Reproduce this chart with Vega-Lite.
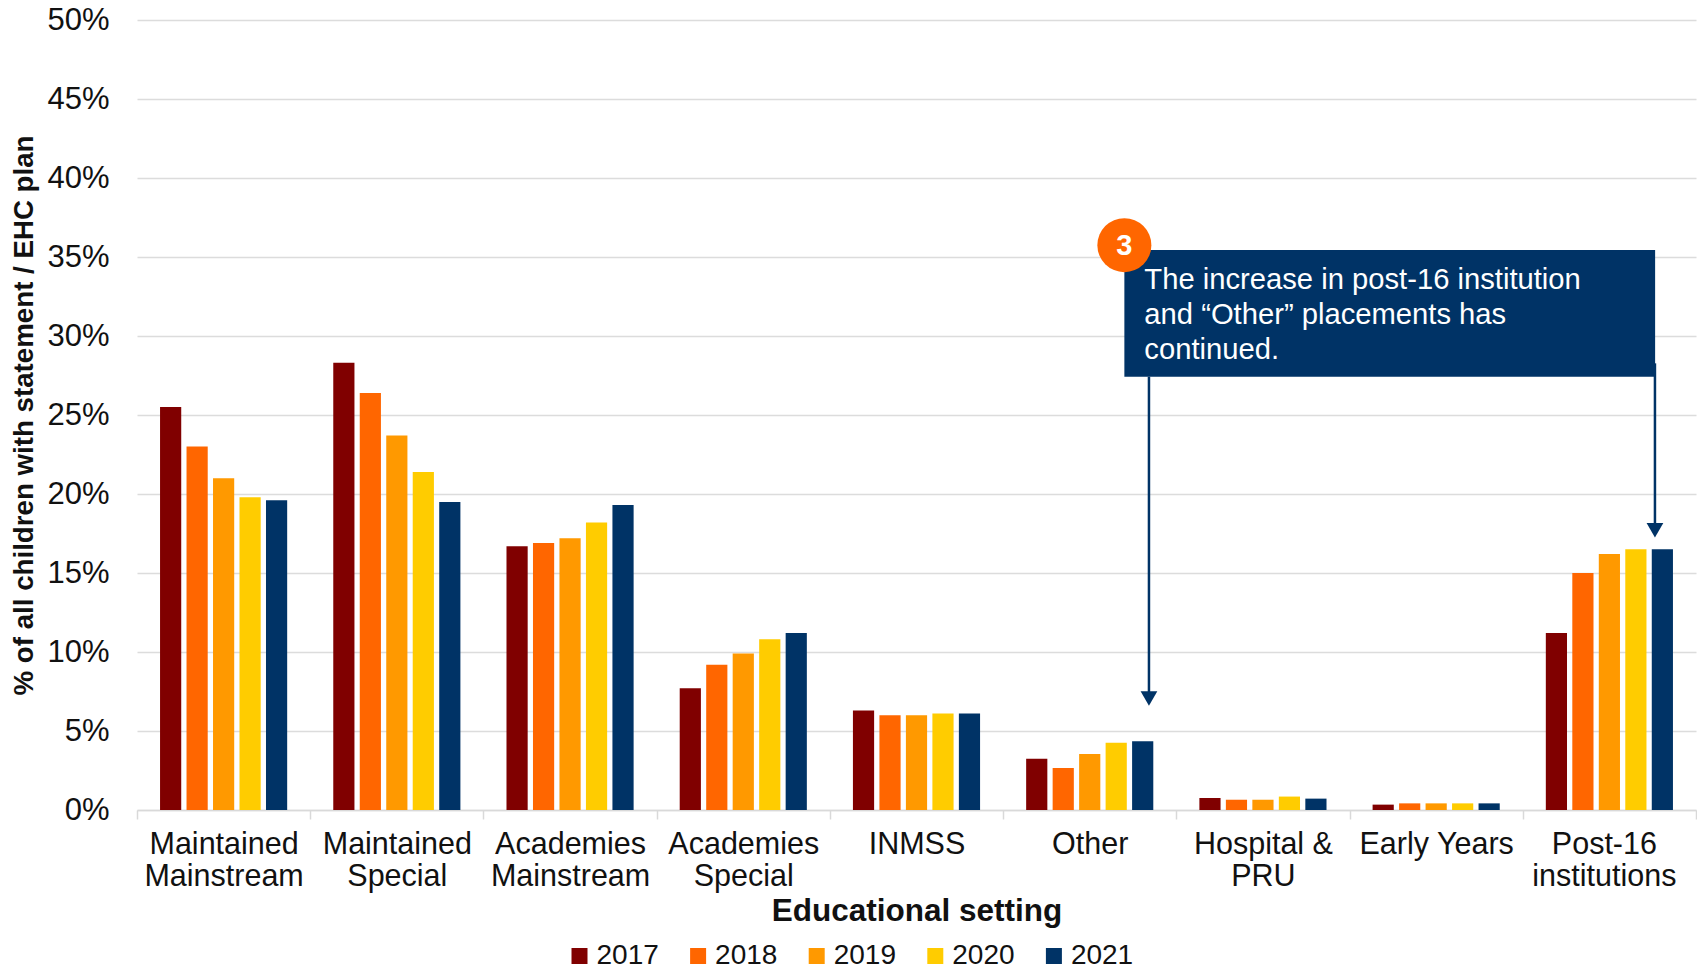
{
"$schema":"https://vega.github.io/schema/vega-lite/v6.json",
"width":1559,"height":790,
"autosize":{"type":"none"},
"padding":{"left":137,"top":20,"right":1,"bottom":163},
"background":"#ffffff",
"config":{"view":{"stroke":null},"font":"Liberation Sans"},
"datasets":{
"bars":[
{"setting":"Maintained Mainstream","year":"2017","pct":25.5},{"setting":"Maintained Mainstream","year":"2018","pct":23.0},{"setting":"Maintained Mainstream","year":"2019","pct":21.0},{"setting":"Maintained Mainstream","year":"2020","pct":19.8},{"setting":"Maintained Mainstream","year":"2021","pct":19.6},
{"setting":"Maintained Special","year":"2017","pct":28.3},{"setting":"Maintained Special","year":"2018","pct":26.4},{"setting":"Maintained Special","year":"2019","pct":23.7},{"setting":"Maintained Special","year":"2020","pct":21.4},{"setting":"Maintained Special","year":"2021","pct":19.5},
{"setting":"Academies Mainstream","year":"2017","pct":16.7},{"setting":"Academies Mainstream","year":"2018","pct":16.9},{"setting":"Academies Mainstream","year":"2019","pct":17.2},{"setting":"Academies Mainstream","year":"2020","pct":18.2},{"setting":"Academies Mainstream","year":"2021","pct":19.3},
{"setting":"Academies Special","year":"2017","pct":7.7},{"setting":"Academies Special","year":"2018","pct":9.2},{"setting":"Academies Special","year":"2019","pct":9.9},{"setting":"Academies Special","year":"2020","pct":10.8},{"setting":"Academies Special","year":"2021","pct":11.2},
{"setting":"INMSS","year":"2017","pct":6.3},{"setting":"INMSS","year":"2018","pct":6.0},{"setting":"INMSS","year":"2019","pct":6.0},{"setting":"INMSS","year":"2020","pct":6.1},{"setting":"INMSS","year":"2021","pct":6.1},
{"setting":"Other","year":"2017","pct":3.25},{"setting":"Other","year":"2018","pct":2.66},{"setting":"Other","year":"2019","pct":3.55},{"setting":"Other","year":"2020","pct":4.25},{"setting":"Other","year":"2021","pct":4.35},
{"setting":"Hospital & PRU","year":"2017","pct":0.76},{"setting":"Hospital & PRU","year":"2018","pct":0.65},{"setting":"Hospital & PRU","year":"2019","pct":0.65},{"setting":"Hospital & PRU","year":"2020","pct":0.85},{"setting":"Hospital & PRU","year":"2021","pct":0.72},
{"setting":"Early Years","year":"2017","pct":0.34},{"setting":"Early Years","year":"2018","pct":0.42},{"setting":"Early Years","year":"2019","pct":0.42},{"setting":"Early Years","year":"2020","pct":0.42},{"setting":"Early Years","year":"2021","pct":0.42},
{"setting":"Post-16 institutions","year":"2017","pct":11.2},{"setting":"Post-16 institutions","year":"2018","pct":15.0},{"setting":"Post-16 institutions","year":"2019","pct":16.2},{"setting":"Post-16 institutions","year":"2020","pct":16.5},{"setting":"Post-16 institutions","year":"2021","pct":16.5}
],
"box":[{"x0":5.70,"x1":8.764,"y0":27.42,"y1":35.44}],
"badge":[{"px":5.70,"py":35.75,"label":"3"}],
"lines":[
{"px":5.70,"py":32.97,"label":"The increase in post-16 institution"},
{"px":5.70,"py":30.75,"label":"and “Other” placements has"},
{"px":5.70,"py":28.54,"label":"continued."}],
"arrows":[
{"px":5.842,"top":27.42,"tail":7.47,"head":7.05},
{"px":8.763,"top":28.27,"tail":18.1,"head":17.7}]
},
"layer":[
{"data":{"name":"bars"},
 "mark":{"type":"bar"},
 "encoding":{
  "x":{"field":"setting","type":"nominal","sort":null,
   "scale":{"paddingInner":0,"paddingOuter":0},
   "title":"Educational setting",
   "axis":{"labelAngle":0,"labelFontSize":30.5,"labelColor":"#111111","labelLineHeight":32,"labelPadding":10,
     "labelExpr":"datum.label=='Early Years' ? datum.label : datum.label=='Hospital & PRU' ? ['Hospital &','PRU'] : split(datum.label,' ')",
     "labelOffset":{"condition":{"test":"datum.value=='Post-16 institutions'","value":-5.5},"value":0},
     "tickBand":"extent","tickColor":"#d9d9d9","tickSize":9,"tickWidth":1.5,"domainColor":"#d9d9d9","domainWidth":1.5,
     "titleFontSize":31.5,"titleFontWeight":"bold","titleColor":"#111111","titlePadding":4,"labelLimit":400}},
  "xOffset":{"field":"year","type":"nominal","sort":null,"scale":{"paddingInner":0.2,"paddingOuter":0.87}},
  "y":{"field":"pct","type":"quantitative","scale":{"domain":[0,50]},
   "title":"% of all children with statement / EHC plan",
   "axis":{"values":[0,5,10,15,20,25,30,35,40,45,50],"labelExpr":"datum.value+'%'","grid":true,"gridColor":"#dcdcdc","gridWidth":1.5,"ticks":false,"domain":false,
     "labelFontSize":31,"labelColor":"#111111","labelPadding":28,
     "titleFontSize":27.7,"titleFontWeight":"bold","titleColor":"#111111","titlePadding":8}},
  "color":{"field":"year","type":"nominal","sort":null,
   "scale":{"domain":["2017","2018","2019","2020","2021"],"range":["#800000","#ff6600","#ff9900","#ffcc00","#003366"]},
   "legend":{"title":null,"orient":"none","legendX":428.5,"legendY":922,"direction":"horizontal","columns":5,"symbolType":"square","symbolSize":256,"symbolStrokeWidth":0,"labelFontSize":28,"labelColor":"#111111","labelOffset":3,"columnPadding":24.6}}
 }},
{"data":{"name":"arrows"},
 "mark":{"type":"rule","color":"#003366","strokeWidth":2.5},
 "encoding":{
  "x":{"field":"px","type":"quantitative","scale":{"domain":[0,9]},"axis":null},
  "y":{"field":"top","type":"quantitative"},"y2":{"field":"tail"}}},
{"data":{"name":"arrows"},
 "mark":{"type":"point","shape":"triangle-down","filled":true,"color":"#003366","size":280,"opacity":1},
 "encoding":{
  "x":{"field":"px","type":"quantitative","scale":{"domain":[0,9]},"axis":null},
  "y":{"field":"head","type":"quantitative"}}},
{"data":{"name":"box"},
 "mark":{"type":"rect","color":"#003366"},
 "encoding":{
  "x":{"field":"x0","type":"quantitative","scale":{"domain":[0,9]},"axis":null},"x2":{"field":"x1"},
  "y":{"field":"y0","type":"quantitative"},"y2":{"field":"y1"}}},
{"data":{"name":"badge"},
 "mark":{"type":"point","shape":"circle","filled":true,"color":"#ff6600","size":2916,"opacity":1},
 "encoding":{
  "x":{"field":"px","type":"quantitative","scale":{"domain":[0,9]},"axis":null},
  "y":{"field":"py","type":"quantitative"}}},
{"data":{"name":"badge"},
 "mark":{"type":"text","color":"#ffffff","fontSize":29,"fontWeight":"bold","align":"center","baseline":"middle","dy":1},
 "encoding":{
  "x":{"field":"px","type":"quantitative","scale":{"domain":[0,9]},"axis":null},
  "y":{"field":"py","type":"quantitative"},
  "text":{"field":"label"}}},
{"data":{"name":"lines"},
 "mark":{"type":"text","color":"#ffffff","fontSize":29.2,"align":"left","baseline":"alphabetic","dx":20},
 "encoding":{
  "x":{"field":"px","type":"quantitative","scale":{"domain":[0,9]},"axis":null},
  "y":{"field":"py","type":"quantitative"},
  "text":{"field":"label"}}}
],
"resolve":{"scale":{"x":"independent"}}
}
